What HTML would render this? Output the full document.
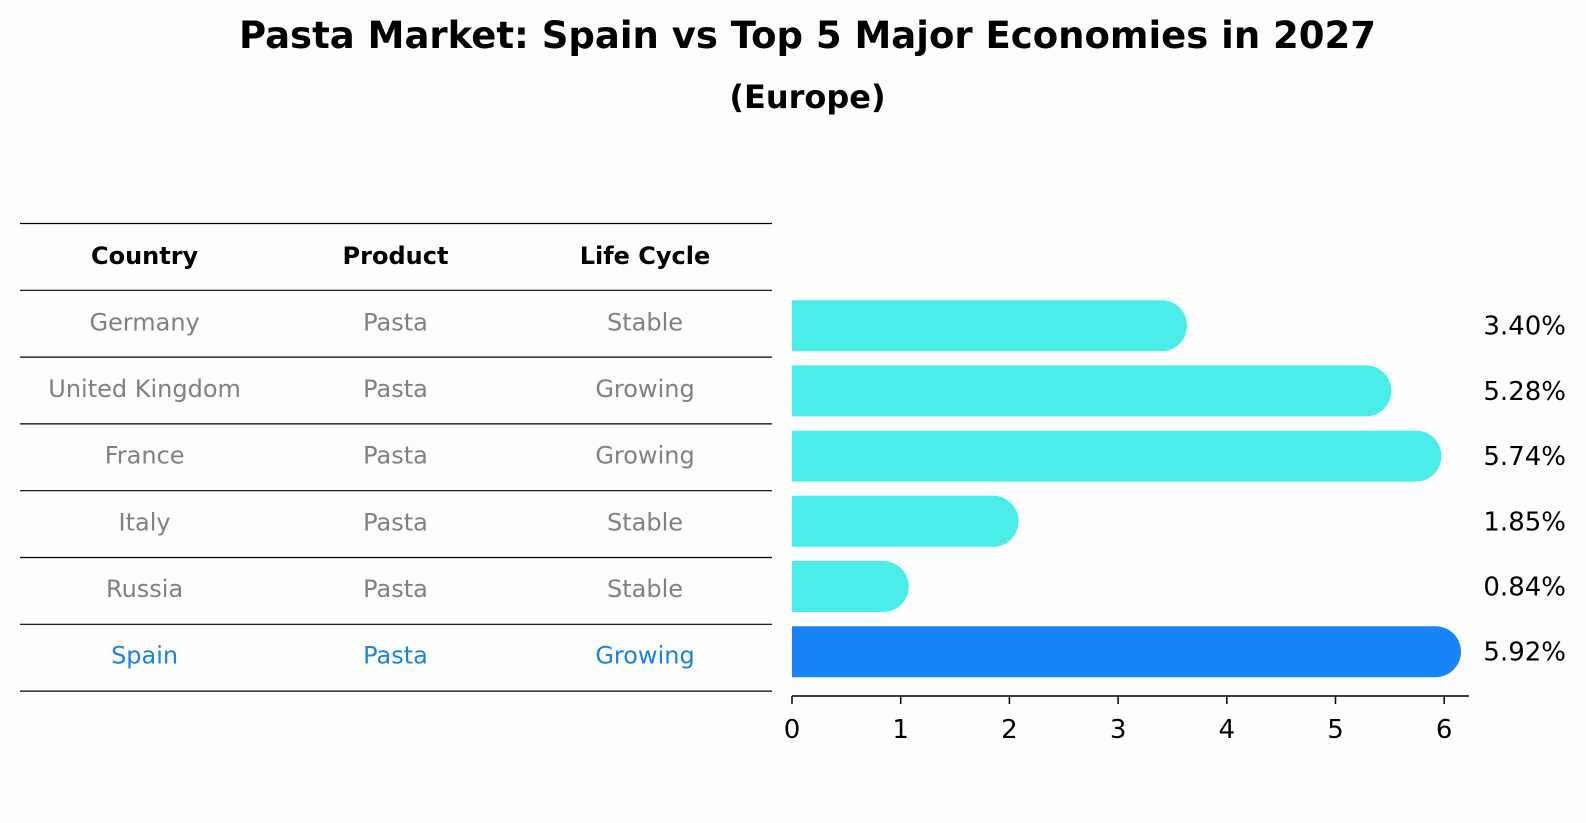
<!DOCTYPE html>
<html><head><meta charset="utf-8"><style>
body{margin:0;background:#fdfdfd;font-family:"DejaVu Sans","Liberation Sans",sans-serif;}
#wrap{position:relative;width:1586px;height:823px;overflow:hidden;}
.t{position:absolute;white-space:nowrap;}
</style></head><body>
<div id="wrap">
<div class="t" style="left:0;width:1615px;text-align:center;top:14px;font-size:37px;font-weight:bold;">Pasta Market: Spain vs Top 5 Major Economies in 2027</div>
<div class="t" style="left:0;width:1615px;text-align:center;top:78px;font-size:32px;font-weight:bold;">(Europe)</div>
<svg id="svg" width="1586" height="823" style="position:absolute;left:0;top:0"></svg>
</div>
<script>
const countries=["Germany","United Kingdom","France","Italy","Russia","Spain"];
const products=["Pasta","Pasta","Pasta","Pasta","Pasta","Pasta"];
const lifecycle=["Stable","Growing","Growing","Stable","Stable","Growing"];
const values=[3.40,5.28,5.74,1.85,0.84,5.92];
const ticks=[0,1,2,3,4,5,6];
const NS="http://www.w3.org/2000/svg";
const svg=document.getElementById('svg');
function mk(t,a,txt){const e=document.createElementNS(NS,t);for(const k in a)e.setAttribute(k,a[k]);if(txt!==undefined)e.textContent=txt;svg.appendChild(e);return e;}
const x=v=>792+v*108.7;
const rowY=i=>325.7+i*65.2;
const F='"DejaVu Sans","Liberation Sans",sans-serif';
// table
const lineYs=[223.5,290.3];
for(let i=0;i<countries.length;i++)lineYs.push(290.3+(i+1)*66.8);
lineYs.forEach(y=>{const l=mk('line',{x1:20,x2:772,y1:y,y2:y,stroke:'#000','stroke-width':1.2});
});
const cols=[144.6,395.5,645];
["Country","Product","Life Cycle"].forEach((h,j)=>{const t=mk('text',{x:cols[j],y:264,'text-anchor':'middle','font-size':24,'font-weight':'bold','font-family':F},h);
});
countries.forEach((c,i)=>{const y=330.5+i*66.6;const col=c==="Spain"?'#1a82e0':'#808080';
[c,products[i],lifecycle[i]].forEach((v,j)=>{const t=mk('text',{x:cols[j],y:y,'text-anchor':'middle','font-size':24,fill:col,'font-family':F},v);
});});
// bars
values.forEach((v,i)=>{const cy=rowY(i),h=51,r=25.5;const col=countries[i]==="Spain"?'#1984f5':'#4aede8';
const x0=x(0),x1=x(v);
const p=mk('path',{d:`M${x0},${cy-h/2}H${x1}A${r},${r} 0 0 1 ${x1},${cy+h/2}H${x0}Z`,fill:col});

const t=mk('text',{x:1566,y:cy+9,'text-anchor':'end','font-size':26,'font-family':F},v.toFixed(2)+'%');
});
// axis
const ax=mk('line',{x1:792,x2:1469,y1:696,y2:696,stroke:'#000','stroke-width':1.5});

ticks.forEach(tv=>{const l=mk('line',{x1:x(tv),x2:x(tv),y1:696,y2:704,stroke:'#000','stroke-width':1.5});

const t=mk('text',{x:x(tv),y:738,'text-anchor':'middle','font-size':26,'font-family':F},String(tv));
});
</script>
</body></html>
